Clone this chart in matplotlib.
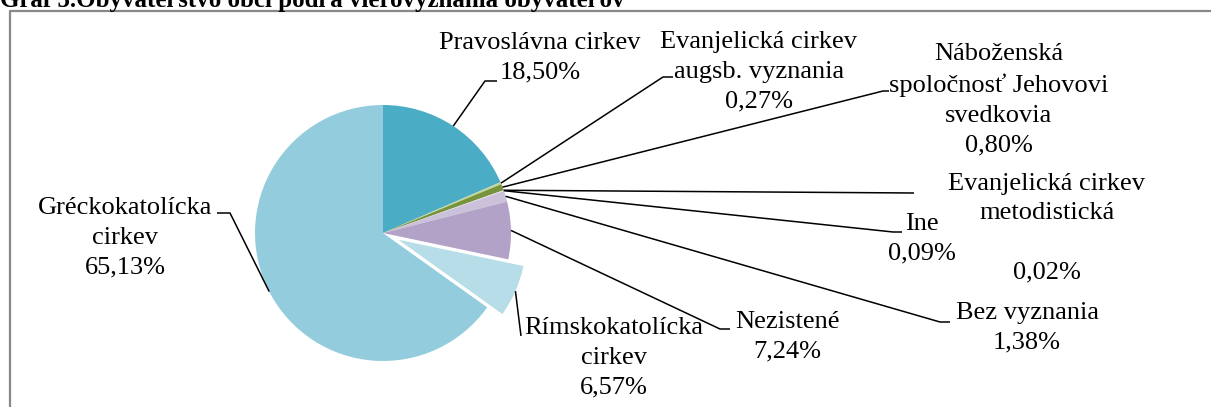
import matplotlib
matplotlib.use("Agg")
import matplotlib.pyplot as plt
import numpy as np

# ---- data ----
categories = [
    "Pravoslávna cirkev",
    "Evanjelická cirkev\naugsb. vyznania",
    "Náboženská\nspoločnosť Jehovovi\nsvedkovia",
    "Evanjelická cirkev\nmetodistická\n",
    "Ine",
    "Bez vyznania",
    "Nezistené",
    "Rímskokatolícka\ncirkev",
    "Gréckokatolícka\ncirkev",
]
values = [18.50, 0.27, 0.80, 0.02, 0.09, 1.38, 7.24, 6.57, 65.13]
value_labels = ["18,50%", "0,27%", "0,80%", "0,02%", "0,09%", "1,38%", "7,24%", "6,57%", "65,13%"]
colors = ["#4BACC6", "#C3D69B", "#77933C", "#8EB4E3", "#E6E0EC",
          "#CCC1DA", "#B3A2C7", "#B7DEE8", "#93CDDD"]
explode = [0, 0, 0, 0, 0, 0, 0, 0.13, 0]
title = "Graf 5.Obyvateľstvo obcí podľa vierovyznania obyvateľov"

W, H = 1211, 407
fig = plt.figure(figsize=(W / 100, H / 100), dpi=100)
ax = fig.add_axes([0, 0, 1, 1])

def Y(y):  # top-based pixel -> data
    return H - y

cx, cy, R = 383, 233, 128
wedges, _ = ax.pie(values, colors=colors, startangle=90, counterclock=False,
                   explode=[e * R for e in explode], center=(cx, Y(cy)), radius=R,
                   frame=True, wedgeprops=dict(linewidth=0))
ax.set_xlim(0, W)
ax.set_ylim(0, H)
ax.axis("off")

# label layout (pixel positions, top-based): text centre and leader path
text_pos = [(540, 58), (759, 72), (999, 100), (1047, 228), (922, 239),
            (1027, 328), (787, 337), (614, 358), (125, 238)]
leader_mid = [[(485, 81), (497, 81)],
              [(663, 77), (673, 77)],
              [(883, 91), (889, 91)],
              [(914, 193)],
              [(893, 232), (902, 232)],
              [(940, 322), (950, 322)],
              [(720, 329), (730, 329)],
              [(521, 336)],
              [(230, 213), (217, 213)]]

for i, w in enumerate(wedges):
    ang = np.deg2rad((w.theta1 + w.theta2) / 2)
    ccx, ccy = w.center
    sx = ccx + R * np.cos(ang)
    sy = ccy + R * np.sin(ang)
    xs = [sx] + [p[0] for p in leader_mid[i]]
    ys = [sy] + [Y(p[1]) for p in leader_mid[i]]
    ax.plot(xs, ys, color="black", lw=1.1, solid_capstyle="butt")
    tx, ty = text_pos[i]
    ax.text(tx, Y(ty), categories[i] + "\n" + value_labels[i], ha="center", va="center",
            fontsize=19, family="Liberation Serif", linespacing=1.45, color="black")

# border
ax.plot([10, 10, W + 50], [Y(H + 50), Y(11), Y(11)], color="#888888", lw=1.6,
        clip_on=False)

ax.text(0, Y(7), title, ha="left", va="baseline", fontsize=18,
        family="Liberation Serif", fontweight="bold", color="black")

fig.savefig("out.png", dpi=100)
